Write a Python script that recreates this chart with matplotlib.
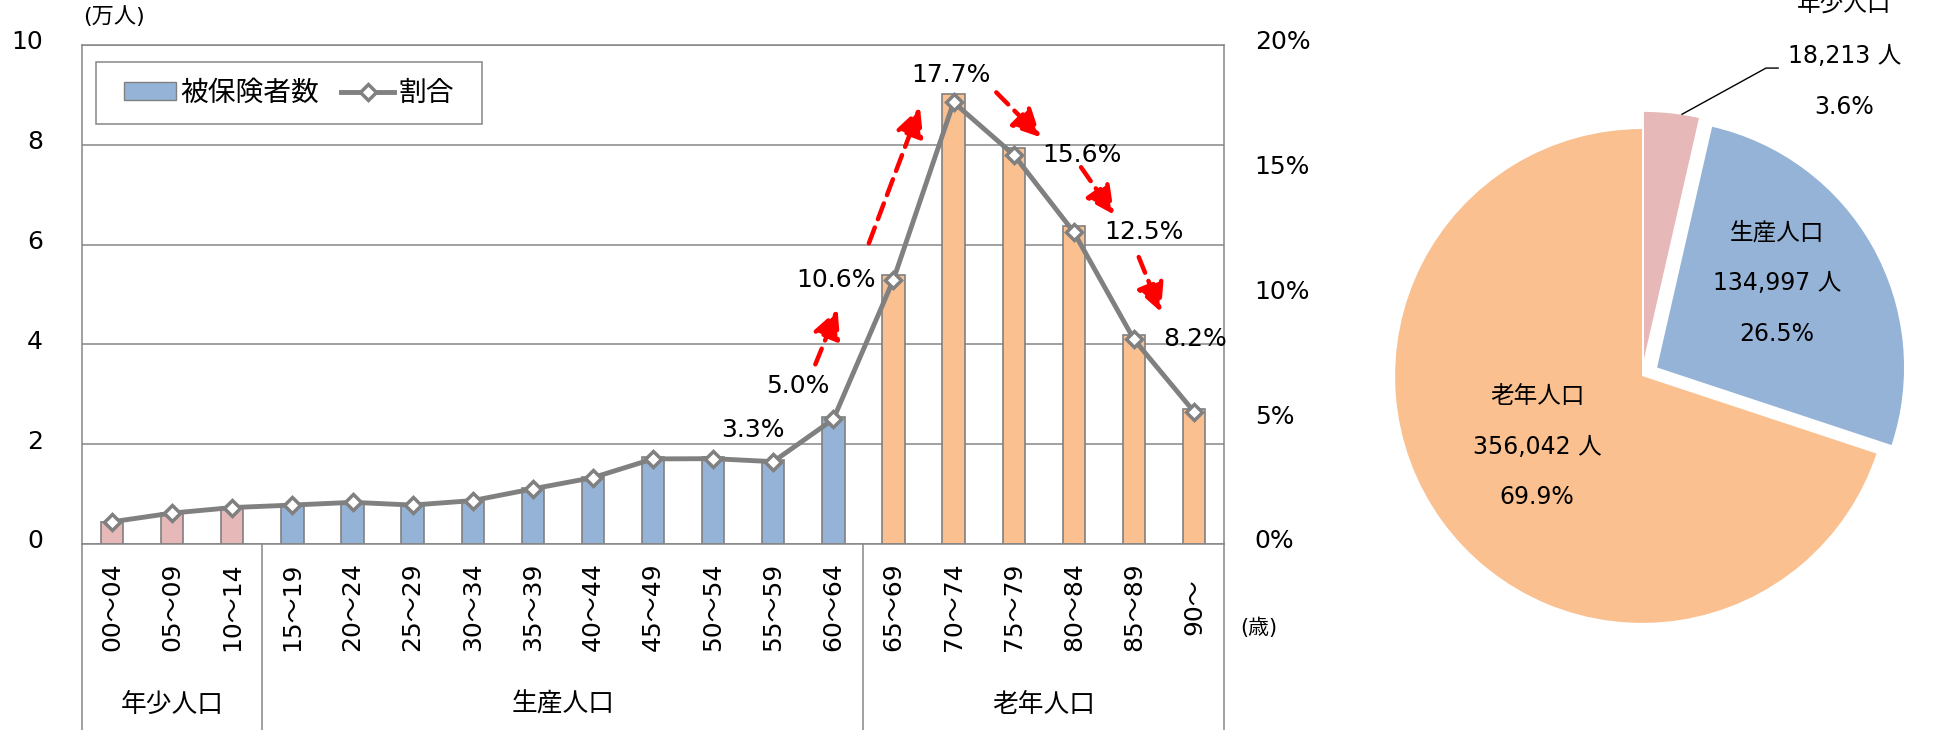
import numpy as np
import matplotlib.pyplot as plt
from matplotlib.patches import Patch, Rectangle
from matplotlib.lines import Line2D
from matplotlib.transforms import blended_transform_factory, ScaledTranslation

plt.rcParams['font.family'] = ['DejaVu Sans', 'Noto Sans CJK JP']

# --- data ---
age_labels = ['00～04', '05～09', '10～14', '15～19', '20～24', '25～29', '30～34',
              '35～39', '40～44', '45～49', '50～54', '55～59', '60～64', '65～69',
              '70～74', '75～79', '80～84', '85～89', '90～']
age_group = ['年少人口'] * 3 + ['生産人口'] * 10 + ['老年人口'] * 6
insured = [0.45, 0.63, 0.74, 0.79, 0.85, 0.79, 0.89, 1.13, 1.35, 1.74,
           1.74, 1.68, 2.55, 5.40, 9.01, 7.94, 6.37, 4.18, 2.70]      # 万人
share = [0.89, 1.24, 1.46, 1.56, 1.67, 1.56, 1.74, 2.21, 2.66, 3.41,
         3.42, 3.3, 5.0, 10.6, 17.7, 15.6, 12.5, 8.2, 5.3]            # %

group_names = ['年少人口', '生産人口', '老年人口']
group_colors = {'年少人口': '#E6B9B8', '生産人口': '#95B3D7', '老年人口': '#FAC090'}

# labelled points: index -> offset (pixels) of the text from the marker
label_offsets = {11: (-20, 32), 12: (-36, 33), 13: (-57, 0), 14: (-3, 27),
                 15: (68, 0), 16: (70, 0), 17: (61, 0)}

# red trend arrows (x position, % start -> x position, % end)
arrows = [(11.7, 7.2, 12.07, 9.4), (12.59, 12.05, 13.44, 17.5),
          (14.71, 18.1, 15.45, 16.3), (16.12, 15.1, 16.67, 13.2),
          (17.08, 11.5, 17.45, 9.3)]

pie_names = ['老年人口', '生産人口', '年少人口']
pie_counts = [356042, 134997, 18213]
pie_pcts = [69.9, 26.5, 3.6]

gray = '#868686'

fig = plt.figure(figsize=(19.39, 7.30), dpi=100)

# --- bar + line chart ---
ax = fig.add_axes([0.0423, 0.2548, 0.589, 0.6836])
x = np.arange(len(age_labels))
ax.bar(x, insured, width=0.37, color=[group_colors[g] for g in age_group],
       edgecolor='#808080', linewidth=1.2, zorder=2)
ax.set_xlim(-0.5, len(age_labels) - 0.5)
ax.set_ylim(0, 10)
ax.set_yticks([0, 2, 4, 6, 8, 10])
ax.set_xticks([])
ax.yaxis.grid(True, color=gray, linewidth=1.1)
ax.set_axisbelow(True)
ax.tick_params(axis='y', length=0, pad=28, labelsize=18)
for s in ax.spines.values():
    s.set_color(gray)
    s.set_linewidth(1.1)

ax2 = ax.twinx()
ax2.plot(x, share, color='#808080', lw=3.5, marker='D', ms=8,
         mfc='white', mec='#808080', mew=2.5, zorder=3)
ax2.set_ylim(0, 20)
ax2.set_yticks([0, 5, 10, 15, 20])
ax2.set_yticklabels([f'{v}%' for v in [0, 5, 10, 15, 20]])
ax2.tick_params(axis='y', length=0, pad=22, labelsize=18)
for s in ax2.spines.values():
    s.set_visible(False)

up = ScaledTranslation(0, 5 / 100, fig.dpi_scale_trans)
for lab in ax.get_yticklabels() + ax2.get_yticklabels():
    lab.set_transform(lab.get_transform() + up)

for i, (dx, dy) in label_offsets.items():
    ax2.annotate(f'{share[i]:.1f}%', xy=(i, share[i]), xytext=(dx, dy),
                 textcoords='offset pixels', ha='center', va='center', fontsize=18)

for x0, y0, x1, y1 in arrows:
    ax2.annotate('', xy=(x1, y1), xytext=(x0, y0),
                 arrowprops=dict(arrowstyle='-|>,head_length=0.9,head_width=0.45',
                                 color='red', lw=3.2, linestyle=(0, (3.8, 2)),
                                 mutation_scale=19, shrinkA=0, shrinkB=0))

# legend with a hand-drawn frame (wider side padding than top/bottom)
ax2.add_patch(Rectangle((0.0123, 0.842), 0.338, 0.124, transform=ax2.transAxes,
                        facecolor='white', edgecolor=gray, linewidth=1.1,
                        zorder=4, clip_on=False))
handles = [Patch(facecolor=group_colors['生産人口'], edgecolor='#808080', label='被保険者数'),
           Line2D([], [], color='#808080', lw=3.5, marker='D', ms=8, mfc='white',
                  mec='#808080', mew=2.5, label='割合')]
leg = ax2.legend(handles=handles, loc='center', bbox_to_anchor=(0.181, 0.904),
                 ncol=2, fontsize=20, frameon=False, borderaxespad=0,
                 handlelength=1.9, handleheight=0.6, handletextpad=0.15,
                 columnspacing=0.8, borderpad=0.3)
leg.set_zorder(5)

# category labels below the axis
trans = blended_transform_factory(ax.transData, ax.transAxes)
for i, lab in enumerate(age_labels):
    ax.text(i, -0.126, lab, transform=trans, rotation=90, ha='center',
            va='center', fontsize=18)

bounds = [-0.5]
for k in range(1, len(age_group)):
    if age_group[k] != age_group[k - 1]:
        bounds.append(k - 0.5)
bounds.append(len(age_group) - 0.5)
for b in bounds:
    ax.plot([b, b], [0, -0.373], transform=trans, clip_on=False, color=gray, lw=1.1)
for g in group_names:
    idx = [k for k, v in enumerate(age_group) if v == g]
    ax.text((idx[0] + idx[-1]) / 2, -0.322, g, transform=trans, ha='center',
            va='center', fontsize=18.5)

fig.text(0.0588, 0.978, '(万人)', ha='center', va='center', fontsize=16)
fig.text(0.649, 0.140, '(歳)', ha='center', va='center', fontsize=15)

# --- pie chart ---
axp = fig.add_axes([0.6813, 0.0452, 0.3311, 0.8795])
axp.pie(pie_counts, startangle=90, counterclock=True,
        colors=[group_colors[n] for n in pie_names], explode=[0, 0.07, 0.07],
        wedgeprops=dict(linewidth=0))
axp.set_xlim(-1.3, 1.3)
axp.set_ylim(-1.3, 1.3)
axp.set_aspect('equal')
axp.axis('off')

pie_text_pos = {'老年人口': (-0.425, -0.08), '生産人口': (0.547, 0.581),
                '年少人口': (0.82, 1.502)}
for n, c, p in zip(pie_names, pie_counts, pie_pcts):
    tx, ty = pie_text_pos[n]
    for k, line in enumerate([n, f'{c:,} 人', f'{p:.1f}%']):
        axp.text(tx, ty - k * 0.206, line, ha='center', va='center', fontsize=17,
                 clip_on=False)
axp.plot([0.162, 0.502, 0.551], [1.06, 1.247, 1.247], color='black', lw=1,
         clip_on=False)

fig.savefig('out.png', dpi=100)
